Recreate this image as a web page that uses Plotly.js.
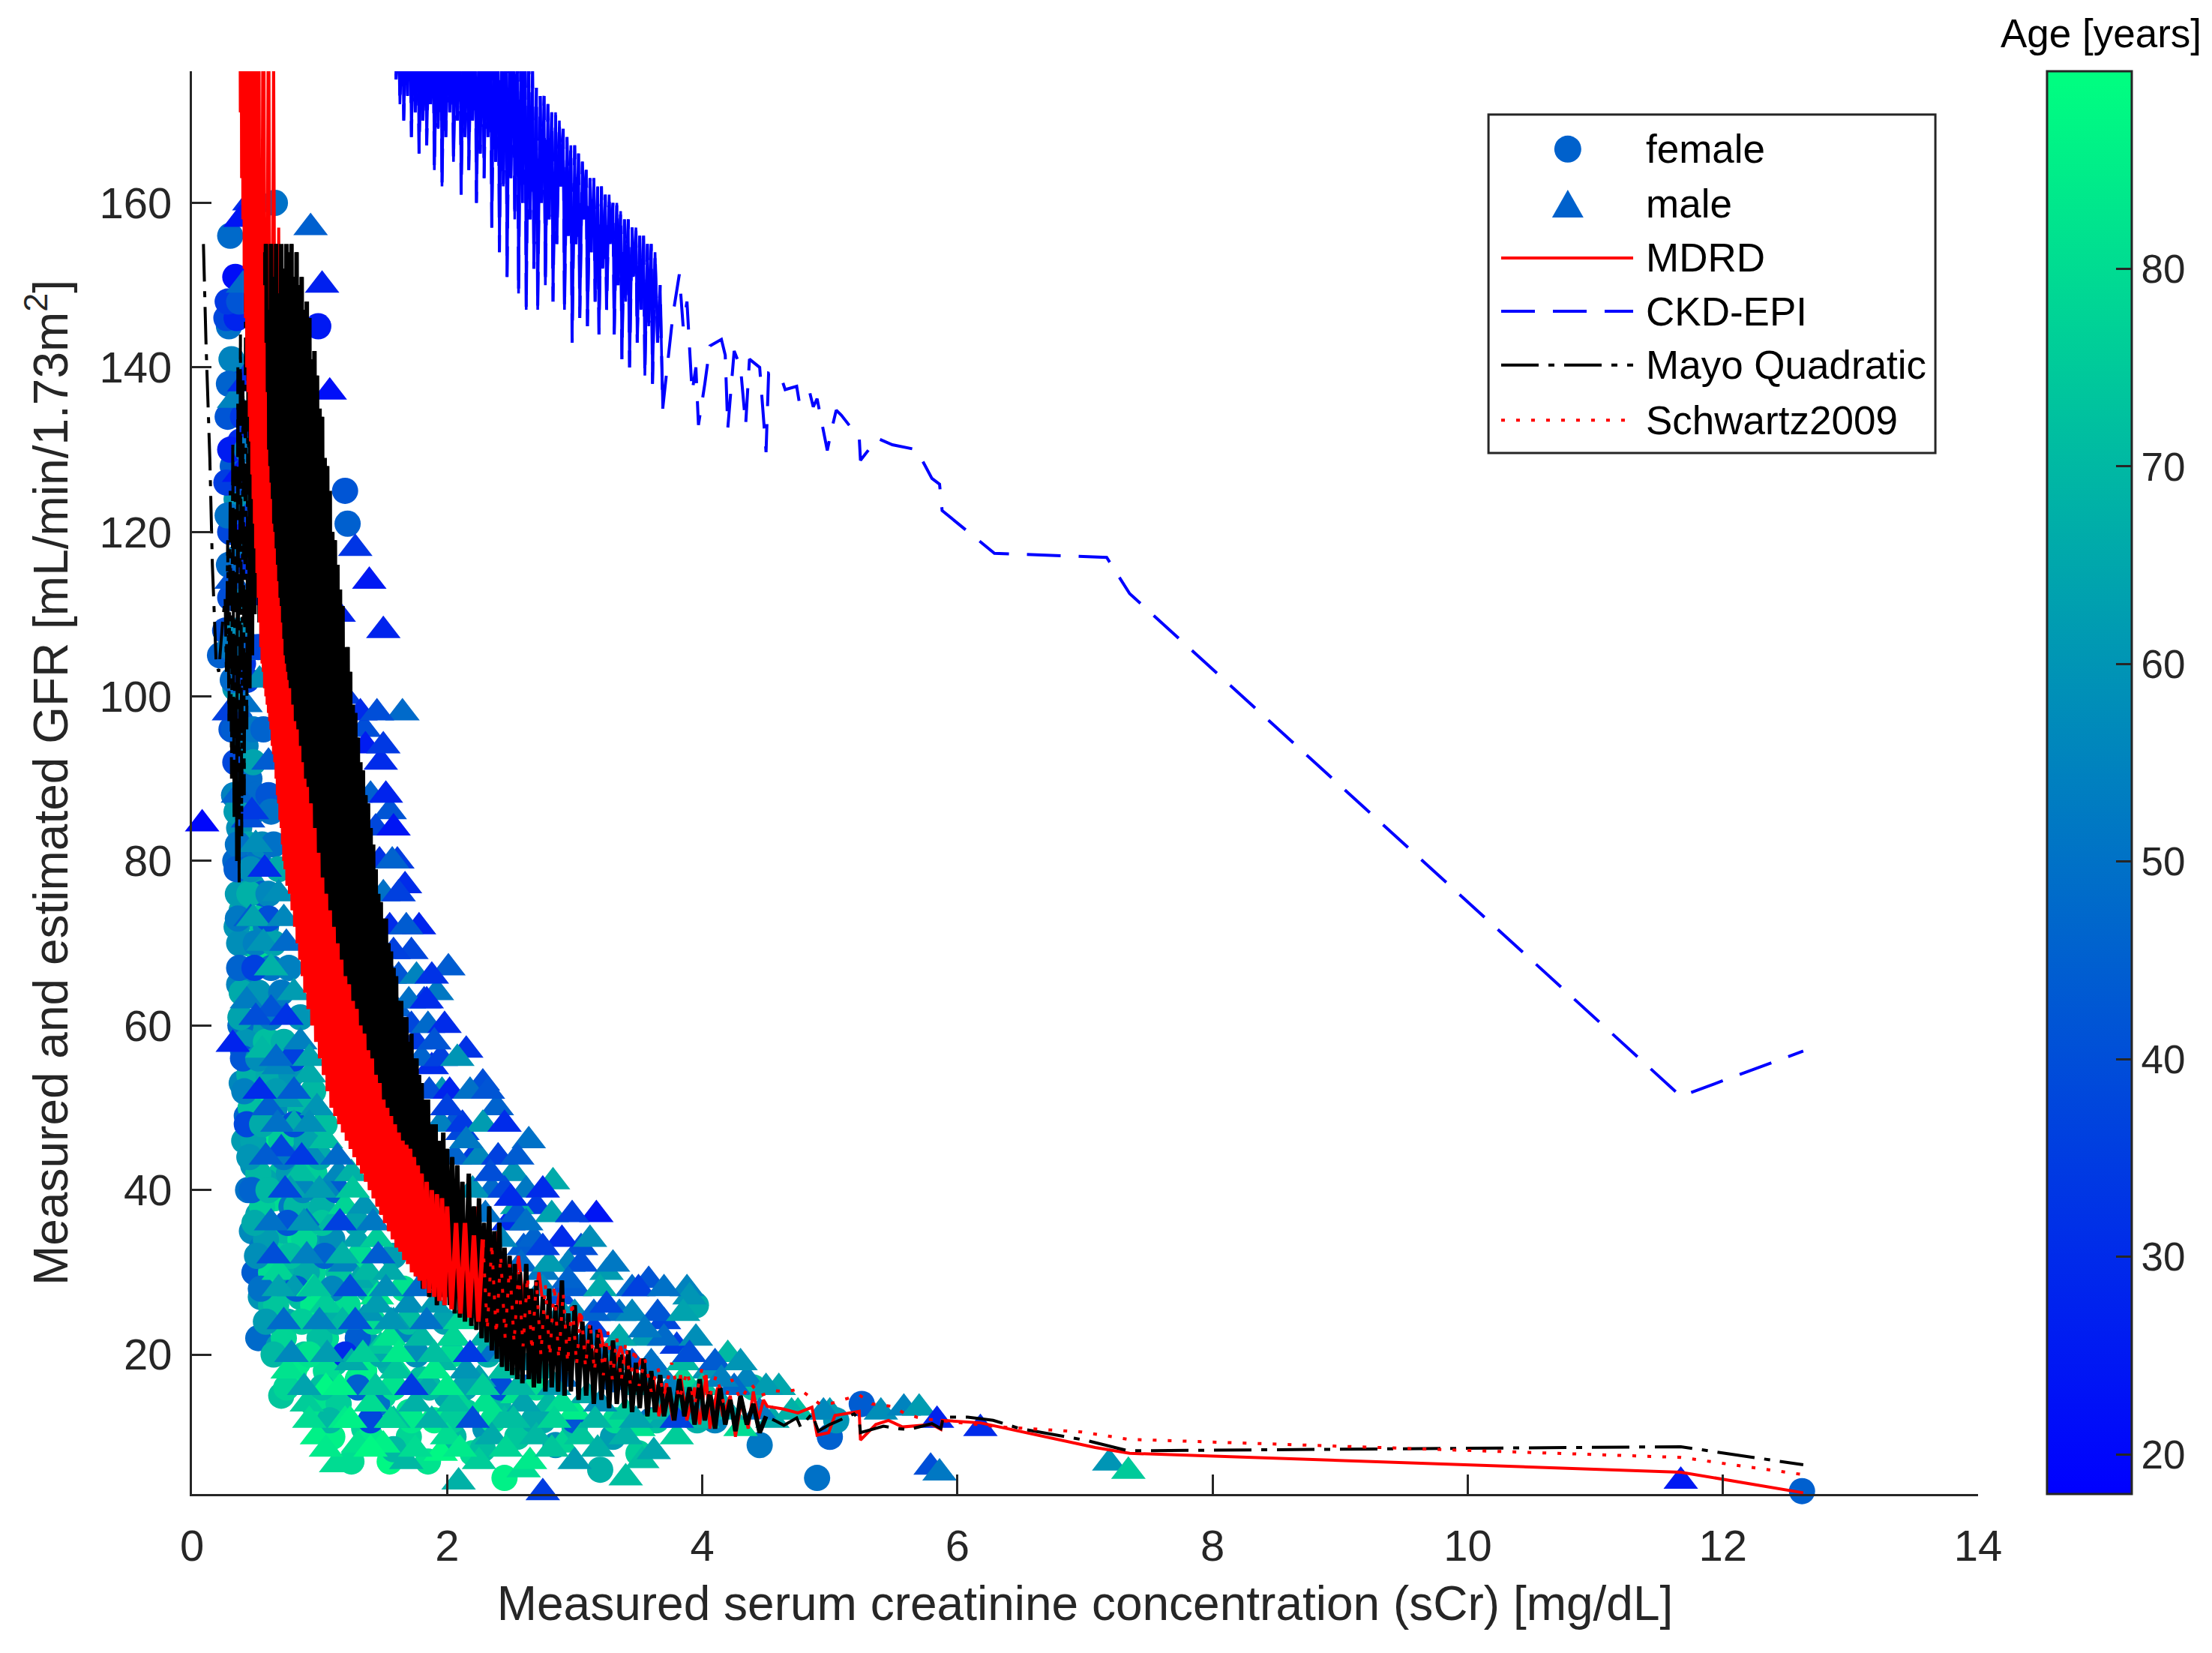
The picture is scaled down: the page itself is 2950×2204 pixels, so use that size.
<!DOCTYPE html>
<html>
<head>
<meta charset="utf-8">
<script src="https://cdn.plot.ly/plotly-3.0.1.min.js"></script>
<style>
  html, body { margin: 0; padding: 0; background: #ffffff; }
  #chart { width: 2950px; height: 2204px; }
</style>
</head>
<body>
<div id="chart"></div>
<script>
// ---- values ----
// female patients: [sCr, measured GFR, age]
const femalePts = [
  [0.30,156,48],[0.34,151,22],[0.29,145,50],[0.36,139,35],[0.33,147,40],[0.31,141,55],[0.38,131,30],[0.32,128,44],
  [0.35,124,60],[0.30,120,38],[0.37,117,52],[0.33,113,46],[0.26,108,40],[0.22,105,45],[0.36,108,58],[0.40,104,33],
  [0.34,101,62],[0.65,160,50],[0.99,145,25],[1.20,125,42],[1.22,121,45],[0.42,112,28],[0.39,121,26],
  [0.38,97,45],[0.42,94,55],[0.36,92,60],[0.45,90,48],[0.40,87,70],[0.48,86,52],[0.37,84,58],[0.44,82,65],
  [0.52,80,50],[0.41,79,72],[0.47,77,62],[0.55,76,45],[0.39,74,66],[0.50,73,75],[0.58,72,55],[0.44,70,68],
  [0.53,68,80],[0.62,67,50],[0.42,66,57],[0.48,64,73],[0.57,63,64],[0.66,62,48],[0.45,60,78],[0.52,59,62],
  [0.61,58,70],[0.31,96,42],[0.33,88,52],[0.34,80,47],[0.35,72,60],[0.37,65,55],[0.38,60,48],[0.39,53,56],
  [0.41,46,62],[0.44,40,50],[0.47,35,57],[0.49,30,44],[0.54,27,60],
  [0.40,57,50],[0.47,55,66],[0.55,54,74],[0.63,53,58],[0.72,52,68],[0.50,51,82],[0.58,49,63],[0.43,49,46],
  [0.67,48,77],[0.75,47,56],[0.53,46,70],[0.62,45,85],[0.82,45,60],[0.48,43,59],[0.70,42,72],[0.58,41,65],
  [0.87,41,67],[0.65,39,80],[0.78,38,52],[0.52,37,64],[0.92,37,74],[0.60,35,55],[0.72,35,70],[0.85,34,82],
  [0.55,33,52],[1.00,33,62],[0.67,32,76],[0.80,31,68],[0.95,30,78],
  [0.52,22,48],[0.62,26,70],[0.72,28,58],[0.85,27,72],[0.83,19,84],[0.88,20,75],[0.98,25,66],[1.05,22,80],
  [1.15,28,60],[1.12,19,75],[1.25,24,70],[1.30,17,84],[1.40,21,62],[1.50,15,78],[1.55,19,68],[1.65,23,55],
  [1.70,13,82],[1.80,17,72],[1.90,12,86],[2.00,15,65],[2.05,10,70],[2.15,13,76],[2.20,8,80],[2.30,11,60],
  [2.45,5,86],[2.40,14,70],[2.55,10,74],[2.60,16,45],[2.75,12,66],[2.85,9,58],[3.00,11,72],[3.20,6,68],
  [3.30,10,62],[3.50,8,76],[3.60,12,50],[3.80,13,64],[3.95,26,66],[3.90,15,70],[4.10,12,55],[4.45,9,52],
  [4.40,16,72],[4.90,5,50],[5.00,10,45],[5.25,14,44],[5.05,12,60],[12.62,3.4,45],
  [0.75,24,66],[0.68,21,62],[1.00,14,84],[1.35,11,78],[1.60,8,70],[0.70,15,74],
  [1.85,30,40],[2.20,26,58],[2.50,22,35],[2.90,20,50],[3.30,17,45],[3.70,15,60],
  [0.27,146,38],[0.28,134,42],[0.27,126,35],[0.29,116,48],[0.30,106,52],[0.33,96,44],[0.34,88,55],[0.36,82,50],
  [0.36,76,62],[0.37,70,58],[0.39,64,66],[0.42,58,60],[0.45,54,68],[0.46,50,72],[0.48,46,64],[0.52,42,70],
  [0.55,38,76],[0.58,34,62],[0.62,30,80],[0.66,26,74],[0.72,22,78],[0.80,18,84],[0.95,14,82],[1.10,10,86],
  [1.25,7,80],[0.35,146,28],[0.40,134,34],[0.42,126,40],[0.45,116,32],[0.47,106,45],[0.48,96,52],[0.50,88,48],
  [0.55,82,57],[0.45,76,68],[0.50,70,54],[0.52,64,60],[0.58,58,72],[0.60,54,66],[0.65,50,58],[0.70,46,75],
  [0.76,42,62],[0.82,38,70],[0.88,34,78],[0.90,30,66],[0.95,26,84],[1.00,22,72],[1.05,18,80],[1.15,14,76],
  [1.40,10,84],[1.55,7,88],[0.52,106,38],[0.56,96,46],[0.60,88,42],[0.64,82,50],[0.60,76,56],[0.64,70,64],
  [0.70,64,52],[0.72,58,68],[0.78,54,60],[0.85,50,70],[0.90,46,64],[0.96,42,76],[1.02,38,68],[1.10,34,58],
  [1.15,30,74],[1.22,26,80],[1.30,22,44],[1.35,18,86],[1.45,14,50],[1.70,10,78],[1.85,7,82],
  [0.28,148,34],[0.37,148,42],[0.29,138,46],[0.30,130,26],[0.43,130,52],[0.28,122,50],[0.30,112,40],[0.40,112,56],
  [0.32,102,48],[0.43,102,36],[0.34,92,38],[0.48,92,64],[0.35,86,62],[0.62,86,50],[0.35,79,44],[0.46,79,58],
  [0.68,79,66],[0.36,73,52],[0.60,73,40],[0.37,67,46],[0.49,67,36],[0.76,67,54],[0.38,61,64],[0.62,61,52],
  [0.85,61,60],[0.40,56,42],[0.52,56,58],[0.80,56,36],[0.41,52,54],[0.66,52,62],[0.95,52,70],[0.43,48,38],
  [0.55,48,66],[0.80,48,40],[1.04,48,72],[0.45,44,60],[0.72,44,52],[1.00,44,66],[0.47,40,46],[0.60,40,70],
  [0.87,40,56],[1.13,40,44],[0.49,36,66],[0.75,36,42],[1.02,36,74],[1.29,36,64],[0.51,32,58],[0.77,32,72],
  [1.04,32,46],[1.32,32,80],[1.58,32,62],[0.54,28,50],[0.82,28,44],[1.10,28,56],[1.38,28,70],[1.66,28,82],
  [0.58,24,62],[0.86,24,76],[1.14,24,68],[1.42,24,80],[1.70,24,72],[1.98,24,64],[0.64,20,70],[0.92,20,82],
  [1.20,20,30],[1.48,20,66],[1.76,20,58],[2.04,20,80],[2.32,20,68],[0.74,16,78],[1.02,16,72],[1.30,16,45],
  [1.58,16,82],[1.86,16,70],[2.14,16,64],[2.42,16,40],[2.70,16,80],[1.08,12,70],[1.40,12,38],[1.72,12,84],
  [2.04,12,76],[2.36,12,82],[2.68,12,66],[3.00,12,42],[3.32,12,80],[3.64,12,74],[3.96,12,68],[1.58,8.5,70],
  [2.28,8.5,72]
];

// male patients: [sCr, measured GFR, age]
const malePts = [
  [1.02,150,27],[1.08,137,22],[0.93,157,45],[0.45,160,30],[0.38,158,24],[1.39,114,25],[1.50,108,28],[1.28,118,33],
  [1.65,98,48],[1.48,92,30],[1.35,96,40],[1.61,80,35],[1.67,77,30],[1.55,86,42],[1.72,69,38],[2.01,67,44],
  [1.92,64,52],[1.82,63,36],[1.78,72,28],[2.28,53,40],[2.39,50,46],[2.15,57,32],[2.64,46,50],[2.52,42,60],
  [2.83,41,66],[2.70,38,35],[3.17,37,24],[3.05,33,40],[2.95,31,55],[3.25,30,62],[3.45,28,48],[3.58,29,42],
  [3.88,28,55],[3.90,27,60],[3.70,24,38],[3.35,25,50],[3.55,22,62],[3.80,21,35],[4.05,18,60],[4.20,20,70],
  [4.35,17,55],[4.60,16,65],[4.75,13,72],[5.00,13,62],[5.40,13,58],[5.58,13.5,55],[5.70,13.5,62],[5.84,12,28],
  [6.18,11,30],[5.79,6.3,40],[5.86,5.6,52],[7.19,6.8,60],[7.34,5.8,75],[11.67,4.6,25],[0.08,84.5,20],[2.75,3.2,35],
  [1.13,6.6,80],[0.32,57.7,28],[2.09,4.5,68],[3.53,7.1,72],[3.62,8.2,65],
  [0.40,150,48],[0.33,136,55],[0.37,127,25],[0.31,114,42],[0.29,98,36],[0.42,99,50],[0.36,88,46],[0.44,85,40],
  [0.50,82,58],[0.46,73,44],[0.56,70,60],[0.43,63,53],[0.62,62,42],[0.55,57,70],[0.68,55,56],[0.74,51,62],
  [0.60,50,45],[0.80,48,66],[0.70,45,38],[0.85,42,72],[0.95,44,58],[0.77,40,64],[1.05,40,55],[0.90,36,48],
  [1.10,36,70],[0.68,30,78],[0.80,28,62],[0.95,28,85],[1.05,26,76],[1.20,31,55],[1.30,29,66],[1.18,24,70],
  [1.38,25,60],[1.45,27,84],[1.48,21,74],[1.58,24,62],[1.62,18,80],[1.75,21,58],[1.85,16,66],[1.95,19,70],
  [2.05,22,55],[2.10,14,78],[2.25,17,64],[2.35,20,50],[2.45,12,72],[2.55,15,82],[2.65,19,60],[2.80,14,70],
  [2.90,17,48],[3.00,13,85],[3.10,15,66],[3.20,19,44],[3.40,13,74],[3.55,16,58],[3.70,12,66],[3.85,17,78],
  [4.00,12,70],[4.15,14,62],[4.30,11,80],[4.55,12,66],[0.98,10,86],[1.20,12,84],[1.30,9,82],[1.50,9,86],
  [1.68,7,70],[1.95,8,88],[2.60,6,80],[2.90,9,78],[3.40,5,72],[3.50,11,82],[1.58,12,72],
  [0.75,18,82],[0.90,14,76],[1.05,16,88],[1.40,14,80],[1.25,19,66],
  [1.88,55,30],[2.05,48,42],[2.20,44,35],[2.35,40,48],[2.48,36,30],[2.60,33,44],[2.75,30,52],[2.88,27,40],
  [3.00,25,58],[3.15,23,36],[3.30,21,50],[3.45,19,42],[3.65,18,55],[1.60,62,45],[1.45,70,52],[1.35,80,38],
  [1.28,88,30],[1.20,100,35],[1.15,110,28],[1.55,66,40],[1.75,58,34],[1.96,52,60],[2.12,47,38],[2.40,44,58],
  [2.55,38,66],
  [0.68,76,58],[0.74,70,48],[0.80,64,62],[0.85,58,54],[0.92,54,66],[0.98,50,60],[1.05,46,72],[1.15,42,56],
  [1.20,38,78],[1.30,34,64],[1.38,30,70],[1.45,26,62],[1.55,22,82],[1.60,18,74],[1.75,14,68],[2.00,10,80],
  [2.25,7,76],[1.25,42,68],[1.35,38,60],[1.45,34,76],[1.55,30,66],[1.70,26,58],[1.80,22,70],[1.90,18,84],
  [2.05,14,72],[2.35,10,66],[2.65,7,84],[1.90,26,62],[2.05,22,78],[2.15,18,60],[2.30,14,82],[2.70,10,70],
  [3.00,7,62],[2.30,22,68],[2.45,18,72],[2.60,14,64],[3.05,10,74],[2.75,18,66],[2.90,14,80],[3.40,10,68],
  [3.20,14,58],[3.80,10,76],
  [1.32,98,30],[1.45,98,40],[1.36,94,26],[1.50,94,34],[1.40,88,45],[1.52,88,28],[1.44,84,38],[1.58,84,24],
  [1.50,76,50],[1.62,76,36],[1.55,72,30],[1.68,72,44],[1.62,66,42],[1.76,66,55],[1.88,66,32],[1.72,60,38],
  [1.85,60,48],[1.98,60,30],[1.80,56,46],[1.95,56,36],[2.08,56,60],[1.86,52,40],[2.02,52,28],[2.18,52,50],
  [2.32,52,42],[1.95,48,54],[2.12,48,34],[2.28,48,62],[2.45,48,30],[2.06,44,46],[2.25,44,56],[2.40,44,36],
  [2.55,44,44],[2.20,40,60],[2.45,40,38],[2.62,40,52],[2.75,40,30],[2.30,37,50],[2.55,37,42],[2.82,37,64],
  [2.98,37,36],[2.42,34,56],[2.68,34,46],[2.90,34,30],[3.12,34,58],[2.58,31,48],[2.80,31,62],[3.05,31,40],
  [3.30,31,52],[2.75,28,56],[3.00,28,44],[3.20,28,66],[3.50,28,36],[3.70,28,50],[2.90,25,60],[3.15,25,46],
  [3.45,25,56],[3.65,25,42],[3.85,25,64],[3.10,22,52],[3.35,22,66],[3.70,22,48],[3.95,22,58],[3.30,19,62],
  [3.60,19,50],[3.85,19,70],[4.10,19,44],[4.30,19,60],[3.50,16,66],[3.75,16,54],[4.00,16,72],[4.25,16,48],
  [4.50,16,62],[3.70,13,70],[3.95,13,58],[4.20,13,66],[4.45,13,52],[4.70,13,68],[4.95,13,56],
  [0.41,138,30],[0.44,122,36],[0.49,112,30],[0.53,102,58],[0.60,92,44],[0.47,86,34],[0.57,79,30],[0.48,73,64],
  [0.72,73,56],[0.62,67,68],[0.50,61,40],[0.74,61,32],[0.66,56,48],[0.92,56,64],[0.53,52,30],[0.80,52,44],
  [0.67,48,50],[0.92,48,58],[0.58,44,44],[0.86,44,34],[1.14,44,48],[0.73,40,38],[1.00,40,62],[1.26,40,74],
  [0.62,36,50],[0.88,36,60],[1.16,36,36],[1.42,36,52],[0.64,32,40],[0.90,32,54],[1.18,32,68],[1.46,32,44],
  [0.68,28,64],[0.96,28,74],[1.24,28,40],[1.52,28,58],[1.78,28,48],[0.72,24,48],[1.00,24,54],[1.28,24,42],
  [1.56,24,60],[1.84,24,50],[2.10,24,78],[0.78,20,56],[1.06,20,62],[1.34,20,76],[1.62,20,84],[1.90,20,72],
  [2.18,20,34],[2.46,20,62],[0.88,16,64],[1.16,16,86],[1.44,16,74],[1.72,16,35],[2.00,16,84],[2.28,16,76],
  [2.56,16,70],[2.84,16,62],[0.92,12,80],[1.24,12,86],[1.56,12,78],[1.88,12,68],[2.20,12,40],[2.52,12,72],
  [2.84,12,78],[3.16,12,70],[3.48,12,64],[3.80,12,36],[1.05,8.5,84],[1.40,8.5,88],[1.75,8.5,80],[2.10,8.5,84],
  [2.46,8.5,78],[2.82,8.5,74],[3.18,8.5,68],
  [1.47,80,32],[1.57,80,46],[1.58,69,36],[1.70,63,50],[1.84,63,30],[1.90,58,42],[2.00,50,36],[2.15,46,52],
  [2.34,42,40],[2.50,39,30],[2.62,36,50],[2.75,33,36],[2.95,29,46],[3.25,26,38],[3.55,23,52],[3.90,20,40],
  [4.15,17,54]
];

// MDRD estimate along sorted sCr: [sCr, eGFR]
const mdrdPts = [
  [0.40,215],[0.42,165],[0.44,212],[0.46,140],[0.48,208],[0.50,125],[0.52,205],[0.54,112],[0.56,200],[0.58,104],
  [0.60,192],[0.62,100],[0.64,178],[0.66,96],[0.68,157],[0.70,90],[0.72,149],[0.74,86],[0.76,144],[0.78,80],
  [0.80,135],[0.82,76],[0.84,130],[0.86,72],[0.88,124],[0.90,66],[0.92,118],[0.94,63],[0.96,112],[0.98,60],
  [1.00,106],[1.04,56],[1.08,98],[1.12,52],[1.16,90],[1.20,48],[1.24,84],[1.28,45],[1.32,78],[1.36,42],
  [1.40,72],[1.44,40],[1.48,66],[1.52,38],[1.56,62],[1.60,35],[1.64,58],[1.68,33],[1.72,55],[1.76,31],
  [1.80,51],[1.84,29.5],[1.88,48],[1.92,28],[1.96,45],[2.00,27],[2.08,42],[2.16,25.5],[2.24,38],[2.32,24],
  [2.40,35],[2.48,22.5],[2.56,32],[2.64,21],[2.72,30],[2.80,20],[2.88,27.5],[2.96,19],[3.04,25],[3.12,18],
  [3.20,23],[3.28,17],[3.36,21],[3.44,16.5],[3.52,19.5],[3.58,15],[3.62,17],[3.66,12.5],[3.72,16.5],[3.77,12],
  [3.83,17.5],[3.88,12],[3.94,16],[3.98,11.5],[4.03,17.5],[4.06,11],[4.12,16],[4.16,12.5],[4.22,15],[4.26,10],
  [4.31,14.5],[4.36,11],[4.40,15.5],[4.44,12.2],[4.48,14.5],[4.51,13.7],[4.63,13.4],[4.75,12.9],[4.86,13.6],[4.90,10.2],
  [4.99,10.5],[5.04,12.6],[5.23,13.1],[5.24,9.6],[5.36,11.5],[5.46,12.0],[5.57,11.2],[5.80,11.5],[5.87,10.9],[5.88,12.0],
  [6.18,11.7],[7.08,8.7],[7.35,8.0],[11.67,5.7],[12.63,3.2]
];

// CKD-EPI estimate: [sCr, eGFR]
const ckdPts = [
  [1.59,182],[1.60,175],[1.62,182],[1.63,172],[1.65,182],[1.66,170],[1.68,182],[1.69,173],[1.71,182],[1.72,168],
  [1.74,182],[1.75,171],[1.77,182],[1.78,166],[1.80,182],[1.81,170],[1.83,182],[1.84,167],[1.86,182],[1.87,172],
  [1.89,182],[1.90,164],[1.92,182],[1.93,169],[1.95,182],[1.96,162],[1.98,182],[1.99,168],[2.01,182],[2.02,171],
  [2.04,182],[2.05,165],[2.07,182],[2.08,170],[2.10,182],[2.11,161],[2.13,182],[2.14,168],[2.16,182],[2.17,164],
  [2.19,182],[2.20,170],[2.22,182],[2.23,160],[2.25,182],[2.26,166],[2.28,182],[2.29,163],[2.31,182],[2.32,168],
  [2.34,182],[2.35,157],[2.37,182],[2.38,165],[2.40,182],[2.41,154],[2.43,182],[2.44,162],[2.46,182],[2.47,151],
  [2.49,182],[2.50,163],[2.52,182],[2.53,158],[2.55,182],[2.56,149],[2.58,182],[2.59,160],[2.61,182],[2.62,147],
  [2.64,180],[2.65,158],[2.67,176],[2.68,152],[2.70,174],[2.71,147],[2.73,173],[2.74,160],[2.76,173],[2.77,150],
  [2.79,172],[2.80,158],[2.82,171],[2.83,148],[2.85,171],[2.86,155],[2.88,170],[2.89,162],[2.91,169],[2.92,147],
  [2.94,168],[2.95,156],[2.97,167],[2.98,143],[3.00,167],[3.01,155],[3.03,166],[3.04,146],[3.06,165],[3.07,158],
  [3.09,164],[3.10,145],[3.12,163],[3.13,154],[3.15,163],[3.16,148],[3.18,162],[3.19,144],[3.21,162],[3.22,152],
  [3.24,161],[3.25,147],[3.27,161],[3.28,155],[3.30,160],[3.31,144],[3.33,160],[3.34,150],[3.36,159],[3.37,141],
  [3.39,158],[3.40,148],[3.42,158],[3.43,140],[3.45,157],[3.46,151],[3.48,157],[3.49,143],[3.51,156],[3.52,147],
  [3.54,156],[3.55,139],[3.57,155],[3.58,145],[3.60,155],[3.61,138],[3.63,154],[3.65,143],[3.67,150],[3.69,135],
  [3.72,139.3],[3.77,146.4],[3.82,151.3],[3.85,145],[3.88,148],[3.92,137],[3.95,140],[3.97,133],[4.02,138],[4.06,142.6],
  [4.15,143.4],[4.18,141.5],[4.20,132.6],[4.25,142],[4.30,140],[4.34,133],[4.37,141],[4.45,140],[4.50,129.7],[4.52,139.3],
  [4.62,138.7],[4.65,137.3],[4.74,137.7],[4.76,135.8],[4.84,137.1],[4.87,135.2],[4.90,136.2],[4.98,129.9],[5.01,132.2],[5.05,134.8],
  [5.09,134.2],[5.19,132.2],[5.23,131.6],[5.24,128.7],[5.30,129.9],[5.37,131.4],[5.49,130.6],[5.68,130.0],[5.80,126.5],[5.86,125.8],
  [5.88,122.6],[6.29,117.4],[7.17,116.9],[7.35,112.5],[11.67,51.4],[12.63,56.9]
];

// Mayo quadratic estimate: [sCr, eGFR]
const mayoPts = [
  [0.09,155],[0.11,143],[0.14,129],[0.16,116],[0.19,104],[0.21,103],[0.24,109],
  [0.26,112],[0.27,103],[0.28,119],[0.29,97],[0.30,125],[0.31,90],[0.32,131],[0.33,85],[0.34,128],[0.35,80],
  [0.36,140],[0.37,77],[0.38,144],[0.39,83],[0.40,139],[0.41,88],[0.42,149],[0.43,96],[0.44,150],[0.45,101],
  [0.46,146],[0.47,105],[0.48,152],[0.49,110],[0.50,153],[0.51,112],[0.52,154],[0.53,109],[0.54,149],[0.55,106],
  [0.56,154],[0.57,104],[0.58,155],[0.59,101],[0.60,147],[0.61,99],[0.62,155],[0.63,97],[0.64,151],[0.65,95],
  [0.66,155],[0.67,92],[0.68,149],[0.69,89],[0.70,155],[0.71,87],[0.72,152],[0.73,85],[0.74,155],[0.75,82],
  [0.76,154],[0.77,80],[0.78,155],[0.79,77],[0.80,151],[0.81,76],[0.82,154],[0.83,73],[0.84,150],[0.85,71],
  [0.86,151],[0.87,70],[0.88,147],[0.89,68],[0.90,148],[0.91,66],[0.92,146],[0.93,65],[0.94,141],[0.95,63],
  [0.96,142],[0.97,62],[0.98,139],[0.99,60],[1.00,135],[1.01,59],[1.02,134],[1.03,58],[1.04,129],[1.05,57],
  [1.06,128],[1.07,55],[1.08,125],[1.09,54],[1.10,120],[1.11,53],[1.12,119],[1.13,52],[1.14,116],[1.15,51],
  [1.16,113],[1.17,50],[1.18,111],[1.19,49],[1.20,106],[1.21,48],[1.22,106],[1.23,47],[1.24,103],[1.25,47],
  [1.26,99],[1.27,46],[1.28,98],[1.29,45],[1.30,95],[1.31,45],[1.32,92],[1.33,44],[1.34,91],[1.35,43],
  [1.36,88],[1.37,42],[1.38,87],[1.39,42],[1.40,84],[1.41,41],[1.42,82],[1.43,40],[1.44,79],[1.45,40],
  [1.46,76],[1.47,39],[1.48,75],[1.49,39],[1.50,73],[1.51,38],[1.52,73],[1.53,38],[1.54,70],[1.55,37],
  [1.56,69],[1.57,37],[1.58,67],[1.59,36],[1.60,66],[1.61,36],[1.62,63],[1.63,35],[1.64,63],[1.65,34],
  [1.66,61],[1.67,34],[1.68,61],[1.69,33],[1.70,58],[1.71,33],[1.72,59],[1.73,32],[1.74,56],[1.75,31],
  [1.76,56],[1.77,31],[1.78,54],[1.79,30],[1.80,53],[1.81,28],[1.82,51],[1.83,29],[1.85,51],[1.86,27],
  [1.88,48],[1.89,28],[1.91,48],[1.92,26],[1.94,46],[1.95,27],[1.97,47],[1.98,26],[2.00,45],[2.02,26],
  [2.04,44],[2.06,25],[2.08,43],[2.10,24.5],[2.12,41],[2.14,24],[2.17,42],[2.19,23.5],[2.21,38],[2.23,23],
  [2.25,39],[2.27,22],[2.29,36],[2.31,21.5],[2.33,38],[2.35,20.5],[2.37,35],[2.39,19.5],[2.41,36],[2.43,18.5],
  [2.45,33],[2.47,18],[2.49,32],[2.51,17.5],[2.53,31],[2.55,17],[2.57,30],[2.59,16.5],[2.62,31],[2.64,17],
  [2.66,28],[2.68,16],[2.70,29],[2.72,16.5],[2.75,27],[2.77,15.5],[2.80,28],[2.82,16],[2.85,26],[2.87,15.5],
  [2.90,29],[2.92,15],[2.95,25],[2.97,15.5],[3.00,26],[3.03,14.5],[3.06,24],[3.09,15],[3.12,23.5],[3.15,14],
  [3.18,23],[3.21,14.5],[3.24,21],[3.27,13.5],[3.30,21.7],[3.33,14],[3.36,20],[3.39,13.5],[3.42,20.5],[3.45,13],
  [3.48,19],[3.51,13.5],[3.54,19.5],[3.57,12.5],[3.60,18],[3.63,13],[3.67,17.5],[3.70,12.5],[3.74,16],[3.78,12],
  [3.82,17],[3.86,12.5],[3.90,16],[3.94,11.5],[3.98,17],[4.02,12],[4.06,15.5],[4.10,11],[4.14,16],[4.18,11.5],
  [4.22,14.5],[4.26,10.7],[4.30,15],[4.35,11.5],[4.40,14],[4.45,10.5],[4.50,12.5],
  [4.58,11.9],[4.64,11.4],[4.74,12.3],[4.77,11.2],[4.86,12.8],[4.91,10.7],[5.00,11.5],[5.19,12.8],[5.23,12.1],[5.24,10.5],
  [5.42,11.3],[5.53,11.0],[5.62,10.9],[5.80,11.6],[5.87,11.0],[5.89,12.4],[6.08,12.4],[6.28,12.0],[6.49,11.0],[7.00,9.6],
  [7.34,8.3],[11.67,8.8],[12.63,6.6]
];

// Schwartz 2009 estimate: [sCr, eGFR]
const schwartzPts = [
  [0.37,205],[0.375,178],[0.38,203],[0.385,171],[0.39,202],[0.395,163],[0.40,200],[0.405,158],[0.41,197],[0.415,152],
  [0.42,195],[0.425,146],[0.43,192],[0.435,140],[0.44,191],[0.445,137],[0.45,189],[0.455,134],[0.46,186],[0.465,131],
  [0.47,183],[0.475,127],[0.48,181],[0.485,124],[0.49,178],[0.495,121],[0.50,174],[0.505,118],[0.51,170],[0.515,115],
  [0.52,165],[0.525,112],[0.53,160],[0.535,109],[0.54,155],[0.545,106],[0.55,150],[0.555,104],[0.56,143],[0.565,103],
  [0.57,137],[0.575,101],[0.58,130],[0.585,100],[0.59,128],[0.595,99],[0.60,126],[0.605,98],[0.61,124],[0.615,97],
  [0.62,121],[0.625,96],[0.63,120],[0.635,94],[0.64,118],[0.645,93],[0.65,116],[0.655,92],[0.66,114],[0.665,90],
  [0.67,112],[0.675,88],[0.68,111],[0.685,87],[0.69,109],[0.695,85],[0.70,107],[0.705,84],[0.71,105],[0.715,82],
  [0.72,104],[0.725,80],[0.73,103],[0.735,79],[0.74,102],[0.75,77],[0.76,101],[0.77,76],[0.78,99],[0.79,74],
  [0.80,97],[0.81,72],[0.82,96],[0.83,70],[0.84,94],[0.85,68],[0.86,92],[0.87,66],[0.88,90],[0.89,64],
  [0.90,89],[0.915,62],[0.93,87],[0.945,60],[0.96,84],[0.975,58],[0.99,81],[1.005,56],[1.02,78],[1.035,54],
  [1.05,76],[1.065,52],[1.08,74],[1.095,50],[1.11,72],[1.125,49],[1.14,70],[1.155,48],[1.17,68],[1.185,47],
  [1.20,66],[1.215,46],[1.23,65],[1.245,45],[1.26,63],[1.275,44],[1.29,62],[1.305,43],[1.32,60],[1.335,42],
  [1.35,59],[1.365,41],[1.38,57],[1.395,40],[1.41,56],[1.425,39],[1.44,54],[1.455,38],[1.47,53],[1.485,37],
  [1.50,51],[1.515,36],[1.53,50],[1.545,35],[1.56,49],[1.575,34],[1.59,48],[1.605,33],[1.62,47],[1.635,32.5],
  [1.65,46],[1.665,31.5],[1.68,45.5],[1.695,31],[1.71,45],[1.725,30],[1.74,44],[1.755,29.5],[1.77,43],[1.785,29],
  [1.80,42],[1.82,28],[1.84,41],[1.86,27.5],[1.88,40],[1.90,27],[1.92,39.5],[1.94,26.5],[1.96,39],[1.98,26],
  [2.00,38],[2.035,25.5],[2.07,36],[2.105,25],[2.14,36],[2.175,24.5],[2.21,34.5],[2.245,24],[2.28,34],[2.315,23],
  [2.35,33.5],[2.385,22.5],[2.42,32],[2.455,22],[2.49,31],[2.525,21.5],[2.56,30],[2.595,21],[2.63,29.5],[2.665,20.5],
  [2.70,29],[2.735,20],[2.77,28.5],[2.805,19.8],[2.84,28.5],[2.875,19.5],[2.91,27.5],[2.945,19],[2.98,26.5],[3.015,18.8],
  [3.05,25.5],[3.085,18.5],[3.12,24],[3.155,18],[3.19,23.5],[3.225,17.5],[3.26,22.8],[3.295,17],[3.33,22],[3.365,16.8],
  [3.40,21.5],[3.435,16.5],[3.47,20.8],[3.505,16.2],[3.55,19.5],[3.60,15.5],[3.65,18.5],[3.70,15],[3.76,19],[3.82,14.5],
  [3.88,18],[3.94,14],[4.00,18.5],[4.05,14.5],[4.11,17.5],[4.17,14],[4.23,17],[4.30,14.5],[4.38,16.5],[4.45,15],
  [4.57,15.6],[4.66,15.5],[4.76,15.8],[4.85,14.8],[4.92,14.0],[5.02,14.1],[5.11,14.5],[5.23,15.1],[5.33,14.0],[5.42,13.8],
  [5.49,13.7],[5.58,12.9],[5.68,12.4],[5.79,12.1],[6.34,11.2],[6.97,10.6],[7.34,9.7],[11.67,7.5],[12.63,5.4]
];

const xTicks = [0, 2, 4, 6, 8, 10, 12, 14];
const yTicks = [20, 40, 60, 80, 100, 120, 140, 160];
const ageTicks = [20, 30, 40, 50, 60, 70, 80];
const legendNames = ["female", "male", "MDRD", "CKD-EPI", "Mayo Quadratic", "Schwartz2009"];

// ---- helpers ----
const col = (pts, i) => pts.map((p) => p[i]);

// the crowded stretch of a line looks solid in the original (thousands of overlapping segments)
function densePart(pts, x0, x1) {
  const sel = pts.filter((p) => p[0] >= x0 && p[0] <= x1);
  return { x: col(sel, 0), y: col(sel, 1) };
}

const FONT = "Liberation Sans, Arial, Helvetica, sans-serif";
const AXIS_COLOR = "#262626";
const LW = 4;
const DENSE_LW = 6;
const DASH = "45px,24px";
const DASHDOT = "50px,13px,8px,13px";
const DOT = "5px,15px";

const mayoDense = densePart(mayoPts, 0.45, 4.5);
const schwartzDense = densePart(schwartzPts, 0.3, 2.3);
const ckdDense = densePart(ckdPts, 1.5, 3.7);

const data = [
  {
    type: "scatter", mode: "markers", name: "female",
    x: col(femalePts, 0), y: col(femalePts, 1),
    marker: { symbol: "circle", size: 35, color: col(femalePts, 2), coloraxis: "coloraxis", line: { width: 0 } },
    cliponaxis: false, showlegend: false, hoverinfo: "skip",
  },
  {
    type: "scatter", mode: "markers", name: "male",
    x: col(malePts, 0), y: col(malePts, 1),
    marker: { symbol: "triangle-up", size: 40, color: col(malePts, 2), coloraxis: "coloraxis", line: { width: 0 } },
    cliponaxis: false, showlegend: false, hoverinfo: "skip",
  },
  {
    type: "scatter", mode: "lines", name: "MDRD",
    x: col(mdrdPts, 0), y: col(mdrdPts, 1),
    line: { color: "#FF0000", width: LW }, showlegend: false,
  },
  {
    type: "scatter", mode: "lines", name: "CKD-EPI",
    x: ckdDense.x, y: ckdDense.y,
    line: { color: "#0000FF", width: 3.5 }, showlegend: false,
  },
  {
    type: "scatter", mode: "lines", name: "CKD-EPI",
    x: col(ckdPts, 0), y: col(ckdPts, 1),
    line: { color: "#0000FF", width: LW, dash: DASH }, showlegend: false,
  },
  {
    type: "scatter", mode: "lines", name: "Mayo Quadratic",
    x: mayoDense.x, y: mayoDense.y,
    line: { color: "#000000", width: DENSE_LW }, showlegend: false,
  },
  {
    type: "scatter", mode: "lines", name: "Mayo Quadratic",
    x: col(mayoPts, 0), y: col(mayoPts, 1),
    line: { color: "#000000", width: LW, dash: DASHDOT }, showlegend: false,
  },
  {
    type: "scatter", mode: "lines", name: "Schwartz2009",
    x: schwartzDense.x, y: schwartzDense.y,
    line: { color: "#FF0000", width: DENSE_LW }, showlegend: false,
  },
  {
    type: "scatter", mode: "lines", name: "Schwartz2009",
    x: col(schwartzPts, 0), y: col(schwartzPts, 1),
    line: { color: "#FF0000", width: LW, dash: DOT }, showlegend: false,
  },
];

// ---- hand-made legend box (keeps the long sample lines of the original) ----
const LEG = { x0: 0.7259, x1: 0.9761, y0: 0.7317, y1: 0.9696 };
const rowY = [0.9453, 0.9067, 0.8688, 0.8313, 0.7935, 0.7548];
const symX = 0.7703, lineX0 = 0.7330, lineX1 = 0.8069, textX = 0.8130;
const LEG_MARK = "#0061CC";

const shapes = [
  { type: "rect", xref: "paper", yref: "paper", x0: LEG.x0, x1: LEG.x1, y0: LEG.y0, y1: LEG.y1,
    line: { color: AXIS_COLOR, width: 3 }, fillcolor: "#FFFFFF", layer: "above" },
  { type: "circle", xref: "paper", yref: "paper", xsizemode: "pixel", ysizemode: "pixel",
    xanchor: symX, yanchor: rowY[0], x0: -18, x1: 18, y0: -18, y1: 18,
    fillcolor: LEG_MARK, line: { width: 0 }, layer: "above" },
  { type: "path", xref: "paper", yref: "paper", xsizemode: "pixel", ysizemode: "pixel",
    xanchor: symX, yanchor: rowY[1], path: "M-21,-18 L21,-18 L0,19 Z",
    fillcolor: LEG_MARK, line: { width: 0 }, layer: "above" },
  { type: "line", xref: "paper", yref: "paper", x0: lineX0, x1: lineX1, y0: rowY[2], y1: rowY[2],
    line: { color: "#FF0000", width: LW }, layer: "above" },
  { type: "line", xref: "paper", yref: "paper", x0: lineX0, x1: lineX1, y0: rowY[3], y1: rowY[3],
    line: { color: "#0000FF", width: LW, dash: DASH }, layer: "above" },
  { type: "line", xref: "paper", yref: "paper", x0: lineX0, x1: lineX1, y0: rowY[4], y1: rowY[4],
    line: { color: "#000000", width: LW, dash: DASHDOT }, layer: "above" },
  { type: "line", xref: "paper", yref: "paper", x0: lineX0, x1: lineX1, y0: rowY[5], y1: rowY[5],
    line: { color: "#FF0000", width: LW, dash: DOT }, layer: "above" },
];

const annotations = legendNames.map((name, i) => ({
  xref: "paper", yref: "paper", x: textX, y: rowY[i], xanchor: "left", yanchor: "middle",
  text: name, showarrow: false, font: { family: FONT, size: 53, color: "#000000" },
}));
annotations.push({
  xref: "paper", yref: "paper", x: 1.0689, y: 1.0264, xanchor: "center", yanchor: "middle",
  text: "Age [years]", showarrow: false, font: { family: FONT, size: 53, color: "#000000" },
});

const axisCommon = {
  showgrid: false, zeroline: false,
  showline: true, linecolor: AXIS_COLOR, linewidth: 3,
  ticks: "inside", ticklen: 26, tickwidth: 3, tickcolor: AXIS_COLOR,
  tickfont: { family: FONT, size: 58, color: AXIS_COLOR },
  automargin: false,
};

const layout = {
  width: 2950, height: 2204,
  margin: { l: 256, r: 312, t: 95, b: 212 },
  paper_bgcolor: "#FFFFFF", plot_bgcolor: "#FFFFFF",
  font: { family: FONT, color: AXIS_COLOR },
  showlegend: false,
  xaxis: {
    ...axisCommon,
    range: [0, 14], tickmode: "array", tickvals: xTicks,
    ticklabelstandoff: 16,
    title: { text: "Measured serum creatinine concentration (sCr) [mg/dL]", font: { family: FONT, size: 64, color: AXIS_COLOR }, standoff: 24 },
  },
  yaxis: {
    ...axisCommon,
    range: [3.05, 176], tickmode: "array", tickvals: yTicks,
    ticklabelstandoff: 12,
    title: { text: "Measured and estimated GFR [mL/min/1.73m<sup>2</sup>]", font: { family: FONT, size: 64, color: AXIS_COLOR }, standoff: 22 },
  },
  coloraxis: {
    cmin: 18, cmax: 90,
    colorscale: [[0, "rgb(0,0,255)"], [1, "rgb(0,255,128)"]],
    colorbar: {
      x: 1.0386, xanchor: "left", y: 0.5, yanchor: "middle",
      len: 1, lenmode: "fraction", thickness: 113, thicknessmode: "pixels",
      xpad: 0, ypad: 0,
      outlinewidth: 3, outlinecolor: AXIS_COLOR,
      ticks: "inside", ticklen: 22, tickwidth: 3, tickcolor: AXIS_COLOR,
      tickmode: "array", tickvals: ageTicks,
      tickfont: { family: FONT, size: 53, color: AXIS_COLOR },
    },
  },
  shapes: shapes,
  annotations: annotations,
};

Plotly.newPlot("chart", data, layout, { staticPlot: true, displayModeBar: false });
</script>
</body>
</html>
